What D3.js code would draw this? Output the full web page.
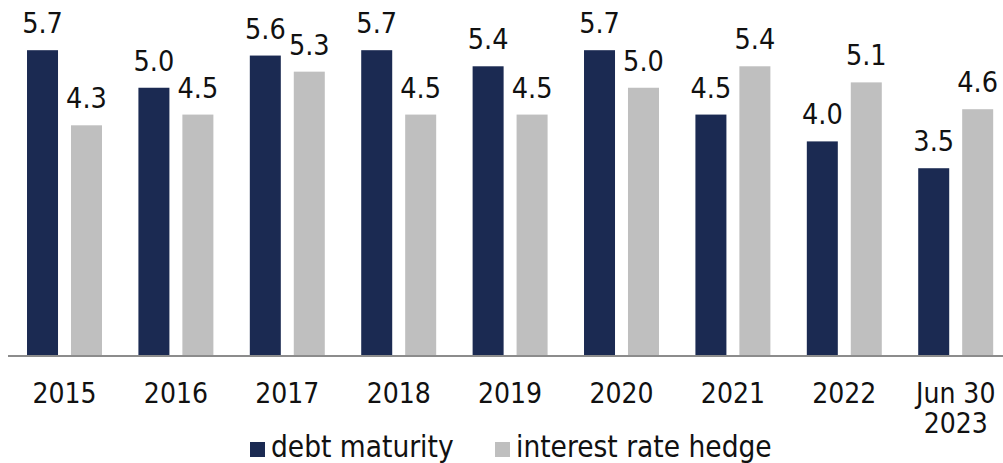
<!DOCTYPE html>
<html>
<head>
<meta charset="utf-8">
<script src="https://cdn.jsdelivr.net/npm/d3@7"></script>
<style>
  body { margin: 0; background: #fff; }
  svg text { font-family: "DejaVu Sans Condensed", "DejaVu Sans", sans-serif; font-stretch: condensed; fill: #111; }
</style>
</head>
<body>
<div id="chart"></div>
<script>
// size of the canvas
var width = 1003,
    height = 463;

// categories along the bottom (second line after "|")
var categories = ["2015", "2016", "2017", "2018", "2019", "2020", "2021", "2022", "Jun 30|2023"];

// series values
var debtMaturity = [5.7, 5.0, 5.6, 5.7, 5.4, 5.7, 4.5, 4.0, 3.5];
var rateHedge    = [4.3, 4.5, 5.3, 4.5, 4.5, 5.0, 5.4, 5.1, 4.6];

var seriesNames = ["debt maturity", "interest rate hedge"];
var seriesColors = ["#1b2a52", "#bfbfbf"];

var baseline = 356;

var svg = d3.select("#chart")
    .append("svg")
    .attr("width", width)
    .attr("height", height);

// one band per year, one sub-band per series
var x0 = d3.scaleBand()
    .domain(categories)
    .range([8.8, 1011.4])
    .paddingInner(0.327)
    .paddingOuter(0.1635);

var x1 = d3.scaleBand()
    .domain(seriesNames)
    .range([0, x0.bandwidth()])
    .paddingInner(0.295);

var y = d3.scaleLinear()
    .domain([0, 6])
    .range([baseline, baseline - 6 * 53.65]);

var color = d3.scaleOrdinal().domain(seriesNames).range(seriesColors);

// rows for the join
var rows = categories.map(function(c, i) {
  return { cat: c, values: [
    { name: seriesNames[0], value: debtMaturity[i] },
    { name: seriesNames[1], value: rateHedge[i] }
  ]};
});

var groups = svg.append("g")
    .selectAll("g")
    .data(rows)
    .enter().append("g")
    .attr("transform", function(d) { return "translate(" + x0(d.cat) + ",0)"; });

groups.selectAll("rect")
    .data(function(d) { return d.values; })
    .enter().append("rect")
    .attr("x", function(d) { return x1(d.name); })
    .attr("y", function(d) { return y(d.value); })
    .attr("width", x1.bandwidth())
    .attr("height", function(d) { return y(0) - y(d.value); })
    .attr("fill", function(d) { return color(d.name); });

// value labels above each bar
groups.selectAll("text.val")
    .data(function(d) { return d.values; })
    .enter().append("text")
    .attr("class", "val")
    .attr("x", function(d) { return x1(d.name) + x1.bandwidth() / 2; })
    .attr("y", function(d) { return y(d.value) - 17; })
    .attr("text-anchor", "middle")
    .style("font-size", "28.5px")
    .text(function(d) { return d.value.toFixed(1); });

// bottom axis: line plus category labels
var axis = svg.append("g")
    .attr("transform", "translate(0," + baseline + ")")
    .call(d3.axisBottom(x0).tickSize(0).tickSizeOuter(0));

axis.select(".domain")
    .attr("d", "M8,0H1003")
    .attr("stroke", "#8c8c8c")
    .attr("stroke-width", 2);

axis.selectAll(".tick text")
    .attr("y", 47)
    .attr("dy", null)
    .style("font-size", "28px")
    .style("font-family", null)
    .attr("fill", "#111")
    .text(null)
    .each(function(d) {
      var lines = d.split("|");
      var t = d3.select(this);
      lines.forEach(function(line, i) {
        t.append("tspan")
          .attr("x", 0)
          .attr("dy", i === 0 ? 0 : 30)
          .text(line);
      });
    });

// legend
var legendX = [250, 495];
var legend = svg.append("g")
    .selectAll("g")
    .data(seriesNames)
    .enter().append("g")
    .attr("transform", function(d, i) { return "translate(" + legendX[i] + ",442)"; });

legend.append("rect")
    .attr("width", 15)
    .attr("height", 15)
    .attr("fill", function(d) { return color(d); });

legend.append("text")
    .attr("x", 21)
    .attr("y", 15)
    .style("font-size", "29.5px")
    .text(function(d) { return d; });
</script>
</body>
</html>
